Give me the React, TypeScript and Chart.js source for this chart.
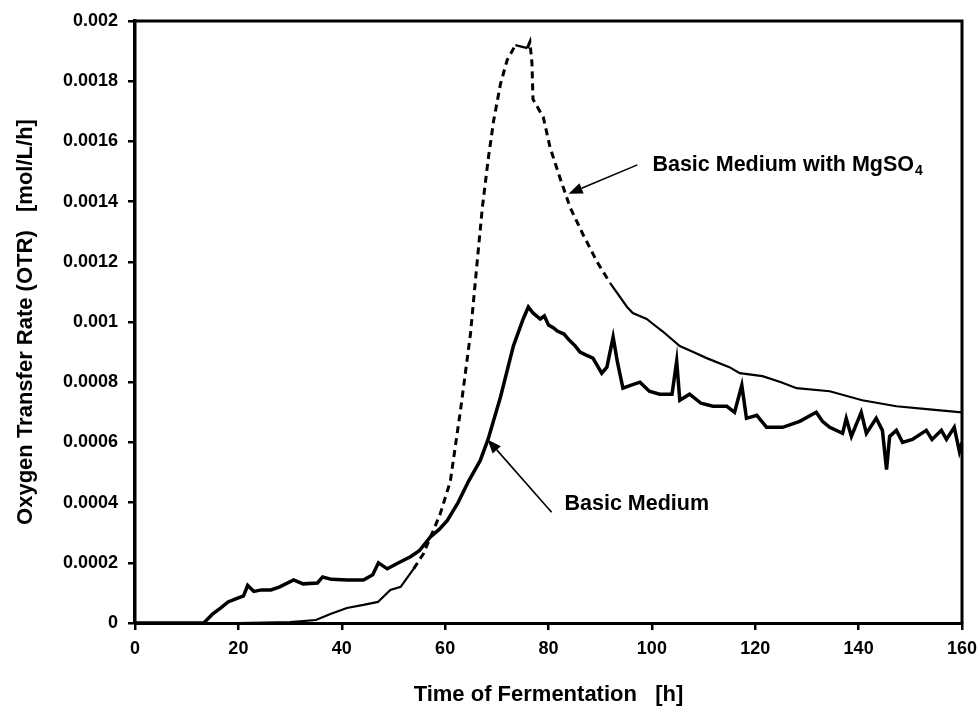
import { useEffect, useRef } from 'react';
import { Chart, registerables } from 'chart.js';

Chart.register(...registerables);

// ---- data ----
const basicTime = [0, 13.3, 15, 16.6, 18, 19.5, 21, 21.8, 23, 24.5, 26.3, 28, 30.7, 32.5, 35.3, 36.3, 38, 41.1, 44.2, 46, 47.1, 48.8, 51, 53.3, 55, 57.1, 58.8, 60.4, 62.5, 64.5, 66.8, 68.3, 70.7, 73.2, 75.1, 76.1, 77, 78.4, 79.2, 80, 81, 81.7, 83, 84, 85.2, 86.1, 87.3, 88.6, 90.3, 91.3, 92.5, 93.3, 94.4, 96, 97.7, 99.5, 101.5, 103.9, 104.8, 105.4, 107.3, 109.5, 111.8, 114.5, 116, 117.4, 118.3, 120.3, 122.2, 125.3, 128.6, 131.8, 133, 134.4, 136.9, 137.6, 138.6, 140.5, 141.5, 143.4, 144.6, 145.4, 146, 147.3, 148.5, 150.4, 153.1, 154.2, 156, 157, 158.5, 159.5, 160];
const basicOTR = [0, 0, 0.00003, 0.00005, 0.00007, 0.00008, 0.00009, 0.000125, 0.000105, 0.00011, 0.00011, 0.00012, 0.000143, 0.00013, 0.000133, 0.000153, 0.000145, 0.000143, 0.000143, 0.00016, 0.0002, 0.00018, 0.0002, 0.00022, 0.00024, 0.000285, 0.00031, 0.00034, 0.0004, 0.00047, 0.00054, 0.00061, 0.00075, 0.00092, 0.00101, 0.00105, 0.00103, 0.00101, 0.00102, 0.00099, 0.00098, 0.00097, 0.00096, 0.00094, 0.00092, 0.0009, 0.00089, 0.00088, 0.00083, 0.00085, 0.00095, 0.00087, 0.00078, 0.00079, 0.0008, 0.00077, 0.00076, 0.00076, 0.00087, 0.00074, 0.00076, 0.00073, 0.00072, 0.00072, 0.0007, 0.00079, 0.00068, 0.00069, 0.00065, 0.00065, 0.00067, 0.0007, 0.00067, 0.00065, 0.00063, 0.00068, 0.00062, 0.0007, 0.00063, 0.00068, 0.00064, 0.00051, 0.00062, 0.00064, 0.0006, 0.00061, 0.00064, 0.00061, 0.00064, 0.00061, 0.00065, 0.00057, 0.0006];

const mgTime = [0, 20, 30, 35, 37.8, 41, 44.2, 47, 49.4, 51.4, 53.9, 55.8, 59, 61, 63, 64.9, 66.2, 67.2, 68.4, 69.4, 70.7, 72, 73.6, 75.9, 76.4, 76.8, 77, 79, 80.3, 82.2, 84.2, 86.7, 89.4, 91.9, 95.2, 96.3, 99, 100.1, 102, 105.4, 108, 110.6, 115, 117, 121.4, 125, 128, 134.4, 140.7, 147.3, 153.7, 160];
const mgOTR = [0, 0, 0.000003, 0.00001, 0.00003, 0.00005, 0.00006, 0.00007, 0.00011, 0.00012, 0.00018, 0.00023, 0.00036, 0.00047, 0.00071, 0.00096, 0.0012, 0.00138, 0.00155, 0.00167, 0.00179, 0.00187, 0.00192, 0.00191, 0.00193, 0.00186, 0.00174, 0.00168, 0.00158, 0.00148, 0.00138, 0.00129, 0.0012, 0.00113, 0.00105, 0.00103, 0.00101, 0.000995, 0.00097, 0.00092, 0.0009, 0.00088, 0.00085, 0.00083, 0.00082, 0.0008, 0.00078, 0.00077, 0.00074, 0.00072, 0.00071, 0.0007];

const xTicks = [0, 20, 40, 60, 80, 100, 120, 140, 160];
const yTicks = [0, 0.0002, 0.0004, 0.0006, 0.0008, 0.001, 0.0012, 0.0014, 0.0016, 0.0018, 0.002];
const yTickLabels = ['0', '0.0002', '0.0004', '0.0006', '0.0008', '0.001', '0.0012', '0.0014', '0.0016', '0.0018', '0.002'];

// annotation anchors in data units: text start, arrow tail, arrow tip
const noteMg = { text: 'Basic Medium with MgSO', sub: '4', tx: 100.1, ty: 0.00152, x0: 97.2, y0: 0.001522, x1: 83.9, y1: 0.001426 };
const noteBasic = { text: 'Basic Medium', sub: '', tx: 83.1, ty: 0.000395, x0: 80.6, y0: 0.000368, x1: 68.2, y1: 0.00061 };
const notes = [noteMg, noteBasic];

const FONT = "'Liberation Sans', Arial, sans-serif";

const framePlugin = {
  id: 'frame',
  afterDraw(chart: any) {
    const { ctx, chartArea } = chart;
    ctx.save();
    ctx.strokeStyle = '#000';
    ctx.lineWidth = 3;
    ctx.beginPath();
    ctx.moveTo(chartArea.left, chartArea.top);
    ctx.lineTo(chartArea.right, chartArea.top);
    ctx.lineTo(chartArea.right, chartArea.bottom);
    ctx.stroke();
    ctx.restore();
  },
};

const notePlugin = {
  id: 'notes',
  afterDatasetsDraw(chart: any) {
    const { ctx } = chart;
    const xs = chart.scales.x;
    const ys = chart.scales.y;
    ctx.save();
    for (const n of notes) {
      const ax0 = xs.getPixelForValue(n.x0);
      const ay0 = ys.getPixelForValue(n.y0);
      const ax1 = xs.getPixelForValue(n.x1);
      const ay1 = ys.getPixelForValue(n.y1);
      const ang = Math.atan2(ay1 - ay0, ax1 - ax0);
      const hl = 14;
      const hw = 5.5;
      const bx = ax1 - hl * Math.cos(ang);
      const by = ay1 - hl * Math.sin(ang);
      ctx.strokeStyle = '#000';
      ctx.fillStyle = '#000';
      ctx.lineWidth = 1.6;
      ctx.beginPath();
      ctx.moveTo(ax0, ay0);
      ctx.lineTo(bx, by);
      ctx.stroke();
      ctx.beginPath();
      ctx.moveTo(ax1, ay1);
      ctx.lineTo(bx + hw * Math.sin(ang), by - hw * Math.cos(ang));
      ctx.lineTo(bx - hw * Math.sin(ang), by + hw * Math.cos(ang));
      ctx.closePath();
      ctx.fill();

      const tx = xs.getPixelForValue(n.tx);
      const ty = ys.getPixelForValue(n.ty);
      ctx.font = `bold 21.5px ${FONT}`;
      ctx.textAlign = 'left';
      ctx.textBaseline = 'middle';
      ctx.fillText(n.text, tx, ty);
      if (n.sub) {
        const w = ctx.measureText(n.text).width;
        ctx.font = `bold 14px ${FONT}`;
        ctx.fillText(n.sub, tx + w + 1, ty + 6);
      }
    }
    ctx.restore();
  },
};

export default function App() {
  const ref = useRef<HTMLCanvasElement>(null);

  useEffect(() => {
    document.body.style.margin = '0';
    const canvas = ref.current;
    if (!canvas) return;
    const tickFont = { family: FONT, weight: 'bold' as const, size: 18 };
    const titleFont = { family: FONT, weight: 'bold' as const, size: 22 };
    const chart = new Chart(canvas, {
      type: 'line',
      data: {
        datasets: [
          {
            label: 'Basic Medium',
            data: basicTime.map((t, i) => ({ x: t, y: basicOTR[i] })),
            borderColor: '#000',
            backgroundColor: '#000',
            borderWidth: 3.5,
            pointRadius: 0,
            tension: 0,
          },
          {
            label: 'Basic Medium with MgSO4',
            data: mgTime.map((t, i) => ({ x: t, y: mgOTR[i] })),
            borderColor: '#000',
            backgroundColor: '#000',
            borderWidth: 2.2,
            pointRadius: 0,
            tension: 0,
            segment: {
              borderDash: (c: any) => {
                const dx = Math.abs(c.p1.x - c.p0.x);
                const dy = Math.abs(c.p1.y - c.p0.y);
                return dy > 1.5 * dx ? [7, 5] : undefined;
              },
              borderWidth: (c: any) => {
                const dx = Math.abs(c.p1.x - c.p0.x);
                const dy = Math.abs(c.p1.y - c.p0.y);
                return dy > 1.5 * dx ? 3 : 2.2;
              },
            },
          },
        ],
      },
      options: {
        animation: false,
        responsive: false,
        events: [],
        layout: { padding: { left: 0, right: 18, top: 21, bottom: 0 } },
        plugins: { legend: { display: false }, tooltip: { enabled: false } },
        scales: {
          x: {
            type: 'linear',
            min: 0,
            max: 160,
            afterBuildTicks: (s: any) => {
              s.ticks = xTicks.map((v) => ({ value: v }));
            },
            afterFit: (s: any) => {
              s.height = 86;
              s.paddingRight = 0;
              s.paddingLeft = 0;
            },
            grid: { drawOnChartArea: false, drawTicks: true, tickLength: 7, color: '#000', lineWidth: 2.5 },
            border: { display: true, color: '#000', width: 3 },
            ticks: { color: '#000', font: tickFont, padding: 8, maxRotation: 0, autoSkip: false },
            title: { display: true, text: 'Time of Fermentation   [h]', color: '#000', font: titleFont, padding: { top: 0, bottom: 1 } },
          },
          y: {
            type: 'linear',
            min: 0,
            max: 0.002,
            afterBuildTicks: (s: any) => {
              s.ticks = yTicks.map((v) => ({ value: v }));
            },
            afterFit: (s: any) => {
              s.width = 135;
              s.paddingTop = 0;
              s.paddingBottom = 0;
            },
            grid: { drawOnChartArea: false, drawTicks: true, tickLength: 7, color: '#000', lineWidth: 2.5 },
            border: { display: true, color: '#000', width: 3.5 },
            ticks: {
              color: '#000',
              font: tickFont,
              padding: 10,
              autoSkip: false,
              callback: (_v: any, i: number) => yTickLabels[i],
            },
            title: { display: true, text: 'Oxygen Transfer Rate (OTR)   [mol/L/h]', color: '#000', font: titleFont, padding: { top: 13, bottom: 0 } },
          },
        },
      },
      plugins: [framePlugin, notePlugin],
    });
    return () => chart.destroy();
  }, []);

  return <canvas ref={ref} width={980} height={709} style={{ display: 'block' }} />;
}
